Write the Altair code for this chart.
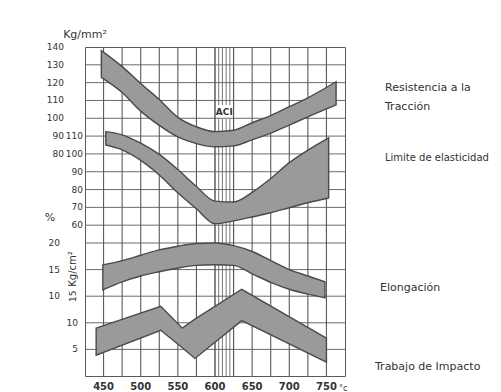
import altair as alt
import pandas as pd

# ---------------- data ----------------
x_grid = list(range(450, 751, 25))           # inner vertical grid, °C
x_labels = [450, 500, 550, 600, 650, 700, 750]
aci_lines = [600, 605, 610, 615, 620, 625]   # ACI band

# Resistencia a la tracción (Kg/mm2)
res_T = [447, 475, 500, 525, 550, 575, 600, 625, 650, 675, 700, 725, 763]
res_hi = [138, 129, 119.5, 110.5, 100.5, 95.2, 92.5, 93.3, 97.5, 101.5, 106.5, 111.5, 120.5]
res_lo = [123, 114.5, 104, 96, 89.5, 85.8, 84, 84.5, 87.9, 91.7, 96.2, 100.8, 107.5]

# Límite de elasticidad (Kg/mm2)
lim_T = [453, 475, 500, 525, 550, 575, 600, 625, 650, 675, 700, 725, 753]
lim_hi = [112.5, 110.7, 106, 99.7, 91.2, 81.7, 73.5, 73, 78.4, 86.2, 95.1, 102.1, 109]
lim_lo = [105, 102.3, 96.4, 88.2, 78.2, 69.2, 60.8, 62.4, 64.6, 67, 69.8, 72.6, 75.3]

# Elongación (%)
elo_T = [449, 475, 500, 525, 550, 575, 600, 625, 650, 675, 700, 725, 748]
elo_hi = [15.9, 16.7, 17.7, 18.7, 19.4, 19.9, 20.0, 19.5, 18.4, 16.7, 15.0, 13.8, 12.7]
elo_lo = [11.2, 12.7, 13.8, 14.6, 15.3, 15.8, 15.9, 15.8, 14.2, 12.6, 11.3, 10.4, 9.7]

# Trabajo de impacto (Kg/cm2)
imp_T = [440, 527, 556, 573, 636, 750]
imp_hi = [9.0, 13.1, 9.0, 10.7, 16.3, 7.1]
imp_lo = [3.9, 8.6, 5.3, 3.3, 10.4, 2.6]

# tick labels / grid
res_ticks = [140, 130, 120, 110, 100, 90, 80]
lim_ticks = [110, 100, 90, 80, 70, 60]
elo_ticks = [20, 15, 10]
imp_ticks = [10, 5]
imp_rot_tick = [15]
res_grid = [130, 120, 110, 100, 90, 80, 70, 60, 50, 40, 30]
elo_grid = [15, 10, 5, 0]

# ---------------- style ----------------
FONT = "DejaVu Sans"
INK = "#333333"
FILL = "#9a9a9a"
EDGE = "#4a4a4a"
GRID = "#5a5a5a"
W, H = 260, 329

xscale = alt.Scale(domain=[425, 775], nice=False, zero=False)
xaxis = alt.Axis(labels=False, ticks=False, domain=False, grid=False, title=None)

s_res = alt.Scale(domain=[140 - H / 1.7818, 140], nice=False, zero=False)
s_lim = alt.Scale(domain=[160 - H / 1.7818, 160], nice=False, zero=False)
s_elo = alt.Scale(domain=[-5, -5 + H / 5.32], nice=False, zero=False)
s_imp = alt.Scale(domain=[0, H / 5.32], nice=False, zero=False)


def band(T, hi, lo, scale, interp):
    df = pd.DataFrame({"T": T, "hi": hi, "lo": lo})
    return alt.Chart(df).mark_area(
        fill=FILL, stroke=EDGE, strokeWidth=1.4, interpolate=interp, opacity=1
    ).encode(
        x=alt.X("T:Q", scale=xscale, axis=xaxis),
        y=alt.Y("hi:Q", scale=scale, axis=None),
        y2="lo:Q",
    )


def ticks(vals, scale, xpix, angle=0, align="right", size=9):
    df = pd.DataFrame({"v": vals})
    return alt.Chart(df).mark_text(
        font=FONT, fontSize=size, color=INK, align=align, baseline="middle", angle=angle
    ).encode(
        x=alt.value(xpix),
        y=alt.Y("v:Q", scale=scale, axis=None),
        text=alt.Text("v:Q"),
    )


def hrules(vals, scale):
    df = pd.DataFrame({"g": vals})
    return alt.Chart(df).mark_rule(color=GRID, strokeWidth=0.9).encode(
        y=alt.Y("g:Q", scale=scale, axis=None)
    )


def note(txt, xp, yp, size=11, align="left", angle=0, weight="normal"):
    return alt.Chart(pd.DataFrame({"t": [txt]})).mark_text(
        font=FONT, fontSize=size, color=INK, align=align, baseline="middle",
        angle=angle, fontWeight=weight
    ).encode(x=alt.value(xp), y=alt.value(yp), text="t:N")


# vertical grid (nested like the ACI lines) + x labels
vgrid = alt.layer(
    alt.Chart(pd.DataFrame({"vg": x_grid})).mark_rule(color=GRID, strokeWidth=1.1).encode(
        x=alt.X("vg:Q", scale=xscale, axis=xaxis)
    )
)
xlab = alt.Chart(pd.DataFrame({"v": x_labels})).mark_text(
    font=FONT, fontSize=10, fontWeight="bold", color=INK, baseline="middle"
).encode(
    x=alt.X("v:Q", scale=xscale, axis=xaxis), y=alt.value(H + 11), text=alt.Text("v:Q")
)

# ACI lines + label
aci = alt.layer(
    alt.Chart(pd.DataFrame({"a": aci_lines})).mark_rule(color="#555555", strokeWidth=0.8).encode(
        x=alt.X("a:Q", scale=xscale, axis=xaxis)
    ),
    alt.Chart(pd.DataFrame({"k": [0]})).mark_rect(color="white").encode(
        x=alt.datum(602), x2=alt.datum(623), y=alt.value(58), y2=alt.value(72)
    ),
    alt.Chart(pd.DataFrame({"t": ["ACI"]})).mark_text(
        font=FONT, fontSize=9, fontWeight="bold", color=INK
    ).encode(x=alt.datum(612.5), y=alt.value(65), text="t:N"),
)

L_res = alt.layer(hrules(res_grid, s_res), band(res_T, res_hi, res_lo, s_res, "monotone"),
                  ticks(res_ticks, s_res, -21))
L_lim = alt.layer(band(lim_T, lim_hi, lim_lo, s_lim, "monotone"), ticks(lim_ticks, s_lim, -2))
L_elo = alt.layer(hrules(elo_grid, s_elo), band(elo_T, elo_hi, elo_lo, s_elo, "monotone"),
                  ticks(elo_ticks, s_elo, -25))
L_imp = alt.layer(band(imp_T, imp_hi, imp_lo, s_imp, "linear"), ticks(imp_ticks, s_imp, -7),
                  ticks(imp_rot_tick, s_imp, -12, angle=270, align="center"))

notes = alt.layer(
    note("Kg/mm²", 0, -12, align="center"),
    note("%", -35, 171, align="center"),
    note("Kg/cm²", -12, 222, size=10, align="center", angle=270),
    note("°c", 254, H + 13, size=8),
    note("Resistencia a la", 300, 41),
    note("Tracción", 300, 60),
    note("Limite de elasticidad", 300, 111, size=10),
    note("Elongación", 295, 241),
    note("Trabajo de Impacto", 290, 320),
)

chart = alt.layer(vgrid, aci, L_res, L_lim, L_elo, L_imp, xlab, notes).resolve_scale(
    y="independent"
).properties(
    width=W, height=H,
    autosize=alt.AutoSizeParams(type="none"),
    padding={"left": 77, "top": 39, "right": 148, "bottom": 16},
    background="white",
).configure_view(stroke=GRID, strokeWidth=1)

chart.save("out.html", embed_options={"renderer": "svg", "actions": False})
